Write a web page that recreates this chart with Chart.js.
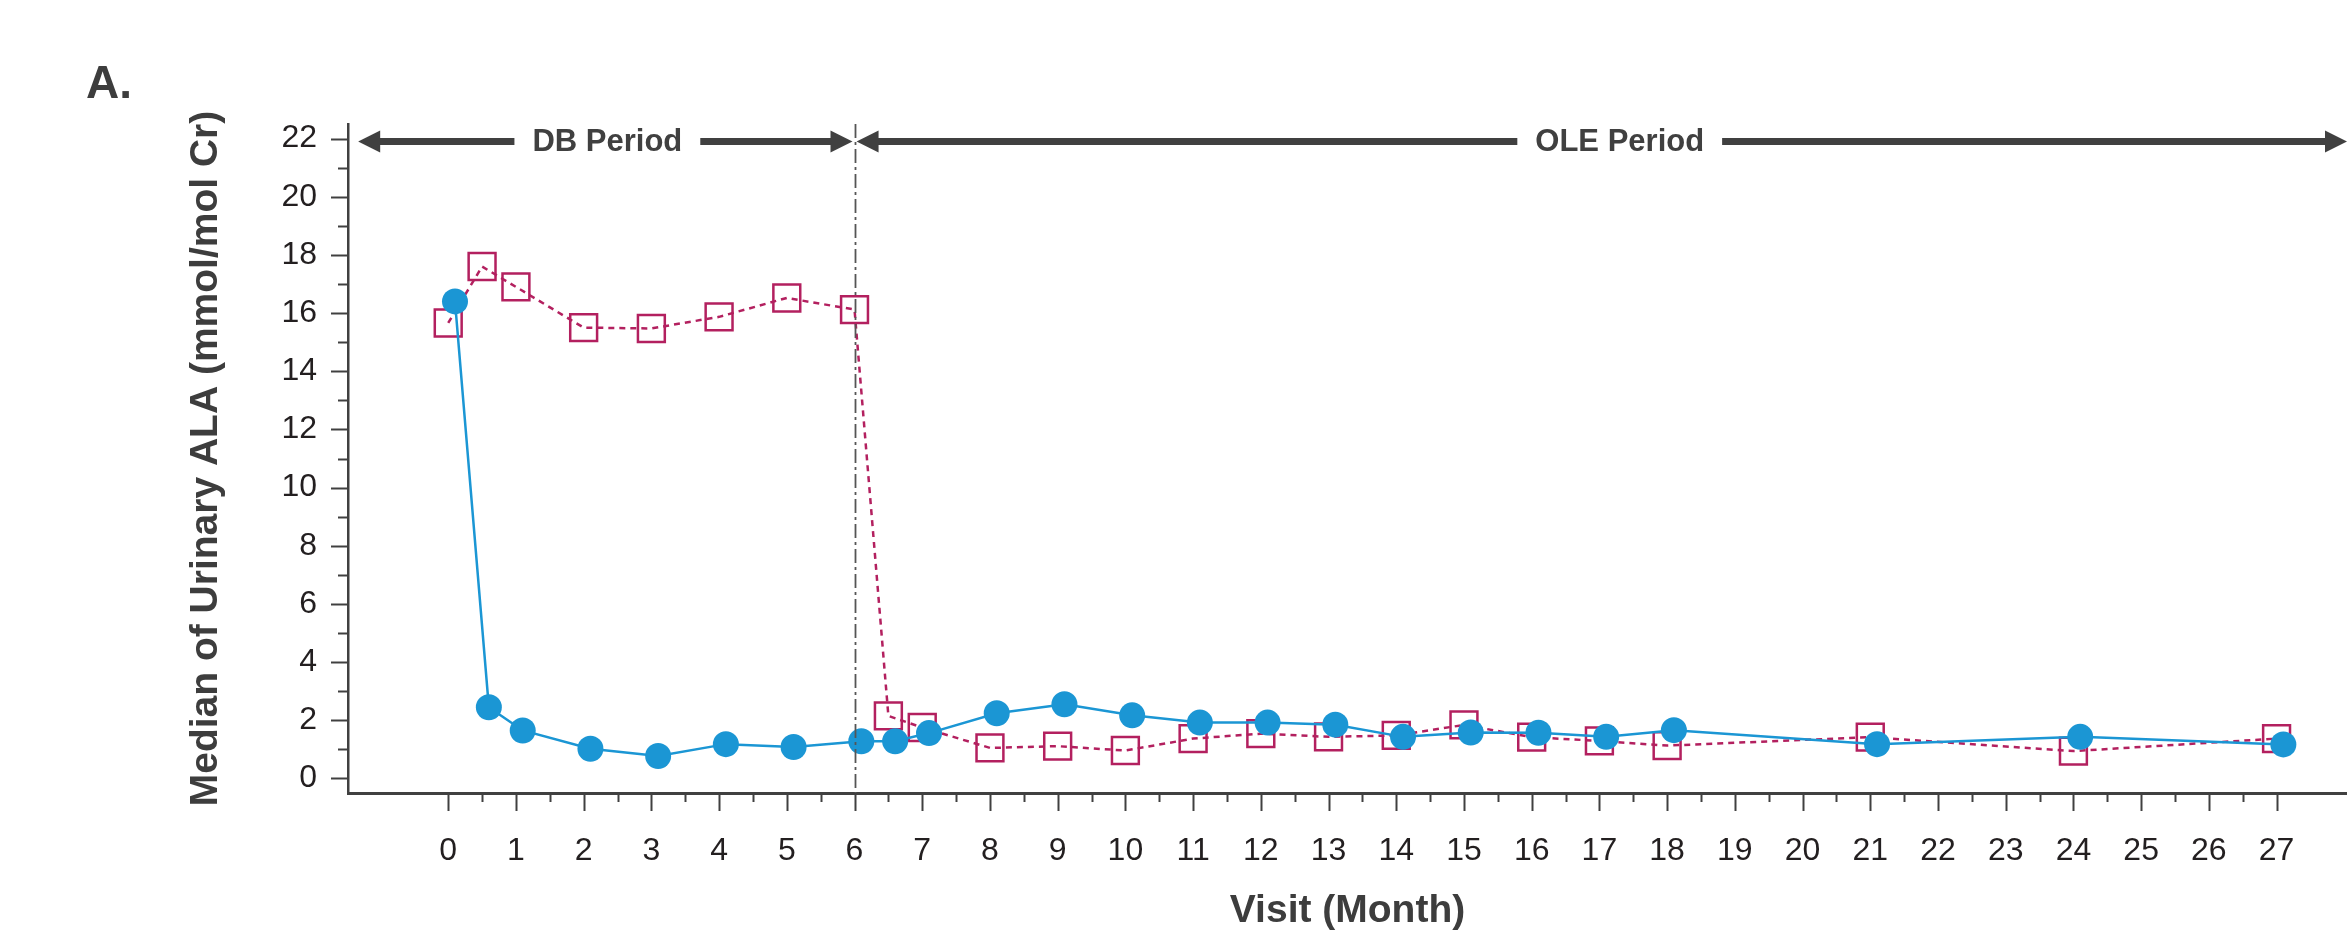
<!DOCTYPE html>
<html lang="en">
<head>
    <meta charset="UTF-8">
    <title>Median of Urinary ALA</title>
    <script src="https://cdn.jsdelivr.net/npm/chart.js"></script>
    <style>
        html, body { margin: 0; padding: 0; background: #fff; }
        #wrap { width: 2347px; height: 935px; }
    </style>
</head>
<body>
    <div id="wrap">
        <canvas id="alaChart" width="2347" height="935"></canvas>
    </div>
    <script>
        // Visit month positions and medians
        const givosiranX = [0.1, 0.6, 1.1, 2.1, 3.1, 4.1, 5.1, 6.1, 6.6, 7.1, 8.1, 9.1, 10.1, 11.1, 12.1, 13.1, 14.1, 15.1, 16.1, 17.1, 18.1, 21.1, 24.1, 27.1];
        const givosiranY = [16.4, 2.45, 1.65, 1.02, 0.77, 1.18, 1.08, 1.28, 1.28, 1.56, 2.24, 2.55, 2.17, 1.92, 1.92, 1.85, 1.43, 1.58, 1.57, 1.43, 1.66, 1.18, 1.43, 1.17];

        const placeboX = [0, 0.5, 1, 2, 3, 4, 5, 6, 6.5, 7, 8, 9, 10, 11, 12, 13, 14, 15, 16, 17, 18, 21, 24, 27];
        const placeboY = [15.66, 17.6, 16.9, 15.5, 15.47, 15.87, 16.52, 16.12, 2.15, 1.75, 1.05, 1.11, 0.96, 1.37, 1.54, 1.43, 1.48, 1.84, 1.42, 1.29, 1.13, 1.42, 0.94, 1.37];

        const xTickValues = Array.from({length: 28}, (_, i) => i);      // 0..27
        const yTickValues = Array.from({length: 23}, (_, i) => i);      // 0..22

        const periods = [
            {label: 'DB Period', from: -1.33, to: 5.97, textAt: 2.35},
            {label: 'OLE Period', from: 6.03, to: null, textAt: 17.3}
        ];
        const periodSplit = 6;
        const arrowLevel = 21.9;

        const BLUE = '#1b96d4';
        const MAGENTA = '#b3205f';
        const AXIS = '#404040';
        const TEXT = '#231f20';
        const TITLE = '#3d3d3d';

        const toPoints = (xs, ys) => xs.map((x, i) => ({x: x, y: ys[i]}));

        function arrowHead(ctx, tipX, y, dir) {
            ctx.beginPath();
            ctx.moveTo(tipX, y);
            ctx.lineTo(tipX - dir * 22, y - 11);
            ctx.lineTo(tipX - dir * 22, y + 11);
            ctx.closePath();
            ctx.fill();
        }

        const decorPlugin = {
            id: 'decor',
            afterDraw(chart) {
                const {ctx, chartArea} = chart;
                const xs = chart.scales.x;
                const ys = chart.scales.y;
                ctx.save();

                // minor / major ticks
                ctx.strokeStyle = AXIS;
                ctx.lineWidth = 2;
                for (let v = 0; v <= 22; v++) {
                    const py = Math.round(ys.getPixelForValue(v)) + 0.5;
                    const len = v % 2 === 0 ? 17 : 10;
                    ctx.beginPath();
                    ctx.moveTo(chartArea.left - len, py);
                    ctx.lineTo(chartArea.left, py);
                    ctx.stroke();
                }
                for (let v = 0; v <= 27; v += 0.5) {
                    const px = Math.round(xs.getPixelForValue(v)) + 0.5;
                    const len = Number.isInteger(v) ? 18 : 9;
                    ctx.beginPath();
                    ctx.moveTo(px, chartArea.bottom);
                    ctx.lineTo(px, chartArea.bottom + len);
                    ctx.stroke();
                }

                // DB / OLE split
                const sx = Math.round(xs.getPixelForValue(periodSplit)) + 0.5;
                ctx.strokeStyle = '#555';
                ctx.lineWidth = 1.8;
                ctx.setLineDash([14, 4, 3, 4]);
                ctx.beginPath();
                ctx.moveTo(sx, chartArea.top);
                ctx.lineTo(sx, chartArea.bottom);
                ctx.stroke();
                ctx.setLineDash([]);

                // period arrows
                const ay = ys.getPixelForValue(arrowLevel);
                ctx.font = 'bold 31px "Liberation Sans", Arial, sans-serif';
                ctx.textAlign = 'center';
                ctx.textBaseline = 'middle';
                ctx.fillStyle = AXIS;
                ctx.strokeStyle = AXIS;
                ctx.lineWidth = 7;
                periods.forEach(p => {
                    const x1 = xs.getPixelForValue(p.from);
                    const x2 = p.to === null ? chartArea.right : xs.getPixelForValue(p.to);
                    const tx = xs.getPixelForValue(p.textAt);
                    const half = ctx.measureText(p.label).width / 2 + 18;
                    ctx.beginPath();
                    ctx.moveTo(x1 + 15, ay);
                    ctx.lineTo(tx - half, ay);
                    ctx.moveTo(tx + half, ay);
                    ctx.lineTo(x2 - 15, ay);
                    ctx.stroke();
                    arrowHead(ctx, x1, ay, -1);
                    arrowHead(ctx, x2, ay, 1);
                    ctx.fillText(p.label, tx, ay + 1);
                });

                // panel letter
                ctx.fillStyle = TITLE;
                ctx.textAlign = 'left';
                ctx.textBaseline = 'alphabetic';
                ctx.font = 'bold 46px "Liberation Sans", Arial, sans-serif';
                ctx.fillText('A.', 86, 98);
                ctx.restore();
            }
        };

        const ctx = document.getElementById('alaChart').getContext('2d');

        new Chart(ctx, {
            type: 'line',
            data: {
                datasets: [{
                    label: 'Givosiran',
                    data: toPoints(givosiranX, givosiranY),
                    borderColor: BLUE,
                    backgroundColor: BLUE,
                    borderWidth: 2.5,
                    pointStyle: 'circle',
                    pointRadius: 13,
                    pointBorderWidth: 0,
                    pointBackgroundColor: BLUE,
                    tension: 0
                }, {
                    label: 'Placebo',
                    data: toPoints(placeboX, placeboY),
                    borderColor: MAGENTA,
                    borderWidth: 2.5,
                    borderDash: [6, 5],
                    pointStyle: 'rect',
                    pointRadius: 19,
                    pointBorderWidth: 2.5,
                    pointBorderColor: MAGENTA,
                    pointBackgroundColor: 'rgba(0,0,0,0)',
                    tension: 0
                }]
            },
            options: {
                responsive: false,
                animation: false,
                devicePixelRatio: 1,
                layout: {
                    autoPadding: false,
                    padding: {left: 183, top: 124, right: 0, bottom: 0}
                },
                plugins: {
                    legend: {display: false},
                    tooltip: {enabled: false}
                },
                scales: {
                    x: {
                        type: 'linear',
                        min: -1.48,
                        max: 28.04,
                        afterBuildTicks: s => { s.ticks = xTickValues.map(v => ({value: v})); },
                        afterFit: s => { s.height = 142; s.paddingLeft = 0; s.paddingRight = 0; },
                        grid: {display: false, drawTicks: false},
                        border: {display: true, color: AXIS, width: 3},
                        ticks: {
                            padding: 39,
                            maxRotation: 0,
                            autoSkip: false,
                            color: TEXT,
                            font: {family: '"Liberation Sans", Arial, sans-serif', size: 32}
                        },
                        title: {
                            display: true,
                            text: 'Visit (Month)',
                            color: TITLE,
                            padding: 0,
                            font: {family: '"Liberation Sans", Arial, sans-serif', size: 39, weight: 'bold'}
                        }
                    },
                    y: {
                        min: -0.5,
                        max: 22.5,
                        afterBuildTicks: s => { s.ticks = yTickValues.map(v => ({value: v})); },
                        afterFit: s => { s.width = 165; s.paddingTop = 0; s.paddingBottom = 0; },
                        grid: {display: false, drawTicks: false},
                        border: {display: true, color: AXIS, width: 2.5},
                        ticks: {
                            padding: 31,
                            autoSkip: false,
                            color: TEXT,
                            font: {family: '"Liberation Sans", Arial, sans-serif', size: 32},
                            callback: v => (v % 2 === 0 ? String(v) : '')
                        },
                        title: {
                            display: true,
                            text: 'Median of Urinary ALA (mmol/mol Cr)',
                            color: TITLE,
                            padding: 0,
                            font: {family: '"Liberation Sans", Arial, sans-serif', size: 39, weight: 'bold'}
                        }
                    }
                }
            },
            plugins: [decorPlugin]
        });
    </script>
</body>
</html>
